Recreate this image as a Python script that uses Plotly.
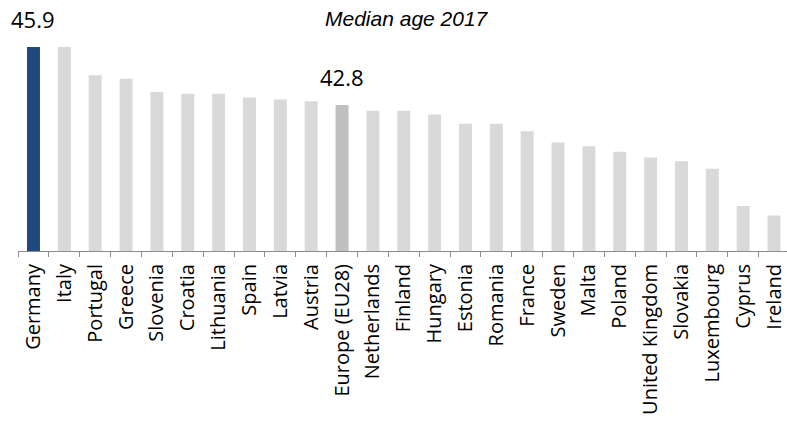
import plotly.graph_objects as go

countries = ["Germany", "Italy", "Portugal", "Greece", "Slovenia", "Croatia", "Lithuania",
             "Spain", "Latvia", "Austria", "Europe (EU28)", "Netherlands", "Finland", "Hungary",
             "Estonia", "Romania", "France", "Sweden", "Malta", "Poland", "United Kingdom",
             "Slovakia", "Luxembourg", "Cyprus", "Ireland"]
median_age = [45.9, 45.9, 44.4, 44.2, 43.5, 43.4, 43.4, 43.2, 43.1, 43.0, 42.8, 42.5, 42.5,
              42.3, 41.8, 41.8, 41.4, 40.8, 40.6, 40.3, 40.0, 39.8, 39.4, 37.4, 36.9]
labelled = ["Germany", "Europe (EU28)"]
title_text = "Median age 2017"

colors = []
for c in countries:
    if c == "Germany":
        colors.append("#1F497D")
    elif c == "Europe (EU28)":
        colors.append("#BFBFBF")
    else:
        colors.append("#D9D9D9")

fig = go.Figure(go.Bar(x=countries, y=median_age, marker_color=colors,
                       marker_line_width=0, width=0.42))

for c, v in zip(countries, median_age):
    if c in labelled:
        fig.add_annotation(x=c, y=v, text=f"{v:.1f}", showarrow=False,
                           yanchor="bottom", yshift=11,
                           font=dict(family="Open Sans", size=22, color="#000000"))

fig.add_annotation(xref="paper", yref="paper", x=(407 - 18) / 769, y=1.0, yshift=22,
                   text=f"<i>{title_text}</i>", showarrow=False,
                   yanchor="middle", xanchor="center",
                   font=dict(family="Liberation Sans", size=21, color="#000000"))

fig.update_layout(
    width=787, height=423,
    margin=dict(l=18, r=0, t=40, b=172, autoexpand=False),
    paper_bgcolor="white", plot_bgcolor="white",
    showlegend=False,
    xaxis=dict(type="category", tickangle=-90, showline=True, linecolor="#8C8C8C",
               linewidth=1, ticks="outside", tickson="boundaries", ticklen=5,
               tickcolor="#8C8C8C", showgrid=False, automargin=False,
               range=[-0.502, 24.42], ticklabelstandoff=4,
               tickfont=dict(family="Open Sans", size=20, color="#000000")),
    yaxis=dict(range=[35, 35 + 211 / 18.71], visible=False, showgrid=False,
               zeroline=False, automargin=False),
)

fig.write_html("out.html", config={"displayModeBar": False},
               post_script="document.body.style.margin='0px';document.body.style.overflow='hidden';")
